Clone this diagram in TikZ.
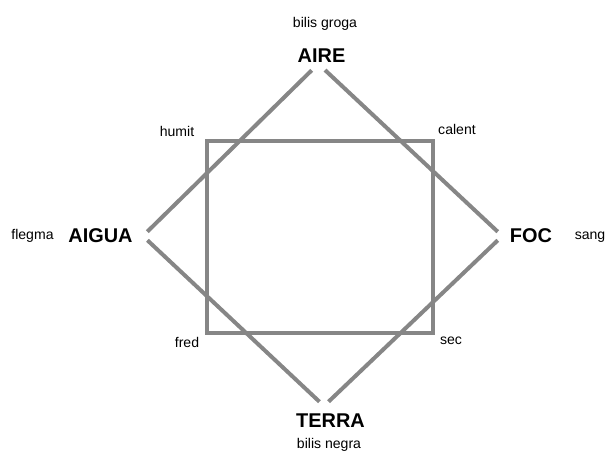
\documentclass[tikz,border=0pt]{standalone}
\usepackage{fontspec}
\setmainfont{Liberation Sans}
\usepackage{tikz}
\usetikzlibrary{positioning}
\definecolor{linegray}{RGB}{134,134,134}
\tikzstyle{element} = [font=\fontsize{17}{20}\selectfont\bfseries, inner sep=0pt, anchor=base]
\tikzstyle{humour} = [font=\fontsize{12}{14}\selectfont, inner sep=0pt, anchor=base]
\tikzstyle{corner} = [circle, inner sep=0pt, minimum size=0.36cm]
\tikzstyle{side} = [linegray, line width=3.4pt]

\begin{document}
\begin{tikzpicture}[x=0.03cm, y=-0.03cm]
            \useasboundingbox (0,0) rectangle (607,452);

            % corners of the diamond
            \node (top) [corner, minimum size=0.54cm] at (318.3,63.8) {};
            \node (left) [corner] at (142.9,236) {};
            \node (right) [corner] at (502.3,236) {};
            \node (bottom) [corner] at (324,406) {};

            % the square of qualities
            \node (sq) [draw=linegray, line width=3.4pt, minimum width=6.78cm, minimum height=5.76cm] at (320,237) {};

            \node (aire) [element] at (321.5,63) {AIRE};
            \node (aigua) [element] at (100.5,243) {AIGUA};
            \node (foc) [element] at (531,243) {FOC};
            \node (terra) [element] at (330.5,427) {TERRA};

            \node (groga) [humour] at (325,28) {bilis groga};
            \node (flegma) [humour] at (32.5,240) {flegma};
            \node (sang) [humour] at (590,240) {sang};
            \node (negra) [humour] at (329,448) {bilis negra};

            \node (humit) [humour] at (177,137) {humit};
            \node (calent) [humour] at (457,135) {calent};
            \node (fred) [humour] at (187,348) {fred};
            \node (sec) [humour] at (451,345) {sec};

            \draw [side] (top) -- (left);
            \draw [side] (top) -- (right);
            \draw [side] (left) -- (bottom);
            \draw [side] (right) -- (bottom);
        \end{tikzpicture}
\end{document}
